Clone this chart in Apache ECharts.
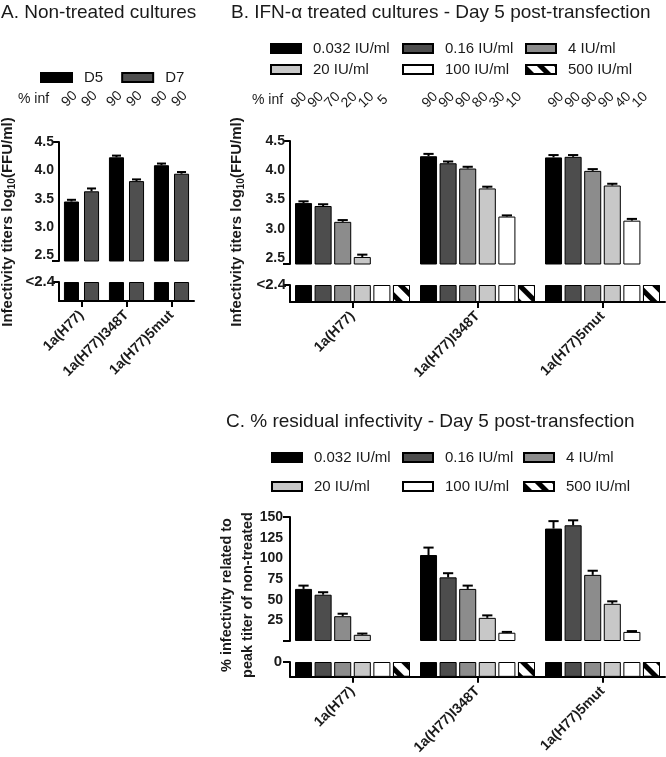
<!DOCTYPE html>
<html><head><meta charset="utf-8">
<script src="https://cdn.jsdelivr.net/npm/echarts@6/dist/echarts.min.js"></script>
<style>html,body{margin:0;padding:0;background:#fff}#c{width:666px;height:757px}</style>
</head><body><div id="c"></div>
<script>
// ---------- DATA ----------
const categories = ['1a(H77)', '1a(H77)I348T', '1a(H77)5mut'];

// Panel A: non-treated cultures, log10 titers
const daysA = ['D5', 'D7'];
const aD5 = [3.45, 4.23, 4.09];
const aD5Err = [0.03, 0.03, 0.03];
const aD7 = [3.63, 3.81, 3.94];
const aD7Err = [0.05, 0.03, 0.03];
const infA = [[90, 90], [90, 90], [90, 90]];

// Panel B: IFN-alpha treated, day 5, log10 titers (null = below detection, "<2.4")
const doses = ['0.032 IU/ml', '0.16 IU/ml', '4 IU/ml', '20 IU/ml', '100 IU/ml', '500 IU/ml'];
const b0032 = [3.44, 4.24, 4.22];
const b016 = [3.39, 4.12, 4.23];
const b4 = [3.12, 4.03, 3.99];
const b20 = [2.52, 3.69, 3.74];
const b100 = [null, 3.21, 3.14];
const b500 = [null, null, null];
const b0032Err = [0.03, 0.04, 0.04];
const b016Err = [0.03, 0.03, 0.03];
const b4Err = [0.03, 0.03, 0.03];
const b20Err = [0.04, 0.03, 0.03];
const b100Err = [0, 0.02, 0.03];
const b500Err = [0, 0, 0];
const infB = [[90, 90, 70, 20, 10, 5], [90, 90, 90, 80, 30, 10], [90, 90, 90, 90, 40, 10]];

// Panel C: % residual infectivity
const c0032 = [63, 104, 136];
const c016 = [56, 77, 140];
const c4 = [30, 63, 80];
const c20 = [7.5, 28, 45];
const c100 = [0, 10, 11];
const c500 = [0, 0, 0];
const c0032Err = [4, 9, 9];
const c016Err = [3, 5, 6];
const c4Err = [3, 4, 5];
const c20Err = [1.5, 3, 3];
const c100Err = [0, 1, 1];
const c500Err = [0, 0, 0];

const titerTicks = [2.5, 3.0, 3.5, 4.0, 4.5];
const pctTicks = [25, 50, 75, 100, 125, 150];

// ---------- STYLE ----------
const FONT = '"Liberation Sans", Arial, Helvetica, sans-serif';
const INK = '#1a1a1a';
const colorsA = ['#000000', '#4f4f4f'];
const doseColors = ['#000000', '#4d4d4d', '#8c8c8c', '#c8c8c8', '#ffffff', '#ffffff'];
const hatch = {color: '#000', dashArrayX: [1, 0], dashArrayY: [5, 7], rotation: Math.PI / 4, symbol: 'rect', symbolSize: 1};

const bVals = [b0032, b016, b4, b20, b100, b500];
const bErrs = [b0032Err, b016Err, b4Err, b20Err, b100Err, b500Err];
const cVals = [c0032, c016, c4, c20, c100, c500];
const cErrs = [c0032Err, c016Err, c4Err, c20Err, c100Err, c500Err];

const gapA = {cat: 0.22, bar: 0.33};
const gapB = {cat: 0.08, bar: 0.15};

const grids = [
  {left: 59, top: 142, width: 135, height: 119},   // A upper
  {left: 59, top: 282, width: 135, height: 19},    // A lower
  {left: 290, top: 141, width: 375, height: 123},  // B upper
  {left: 290, top: 285, width: 375, height: 17},   // B lower
  {left: 290, top: 517, width: 375, height: 124},  // C upper
  {left: 290, top: 662, width: 375, height: 16}    // C lower
];

const axLine = {show: true, lineStyle: {color: '#000', width: 2}};
const lblStyle = {color: INK, fontFamily: FONT, fontWeight: 'bold', fontSize: 14};

const xAxes = grids.map((g, i) => {
  const lower = i % 2 === 1;
  return {
    type: 'category', gridIndex: i, data: categories,
    show: lower,
    axisLine: axLine,
    axisTick: {show: true, alignWithLabel: true, length: 6, lineStyle: {color: '#000', width: 2}},
    axisLabel: Object.assign({rotate: 45, margin: 12, interval: 0}, lblStyle),
    splitLine: {show: false}
  };
});

function upperY(gi, min, max, ticks, fmt, margin) {
  return {
    type: 'value', gridIndex: gi, min: min, max: max,
    axisLine: axLine,
    axisTick: {show: true, length: 7, lineStyle: {color: '#000', width: 2}, customValues: [min, max]},
    axisLabel: Object.assign({customValues: ticks, formatter: fmt, margin: margin}, lblStyle),
    splitLine: {show: false}
  };
}
function lowerY(gi, label, margin) {
  return {
    type: 'value', gridIndex: gi, min: 0, max: 1,
    axisLine: axLine,
    axisTick: {show: true, length: 7, lineStyle: {color: '#000', width: 2}, customValues: [1]},
    axisLabel: Object.assign({customValues: [1], formatter: () => label, margin: margin}, lblStyle, {fontSize: 15}),
    splitLine: {show: false}
  };
}
const yAxes = [
  upperY(0, 2.4, 4.5, titerTicks, v => v.toFixed(1), 5),
  lowerY(1, '<2.4', 4),
  upperY(2, 2.4, 4.5, titerTicks, v => v.toFixed(1), 5),
  lowerY(3, '<2.4', 4),
  upperY(4, 0, 150, pctTicks, v => String(v), 7),
  lowerY(5, '0', 8)
];

const series = [];
function barStyle(color, decal) {
  const s = {color: color, borderColor: '#000', borderWidth: 1};
  if (decal) s.decal = decal;
  return s;
}
function addBars(name, ax, vals, color, decal, gap) {
  series.push({
    type: 'bar', name: name, xAxisIndex: ax, yAxisIndex: ax,
    data: vals, itemStyle: barStyle(color, decal),
    barGap: (gap.bar * 100) + '%', barCategoryGap: (gap.cat * 100) + '%',
    clip: true, silent: true
  });
}
function addErr(ax, vals, errs, idx, n, gap) {
  const data = [];
  vals.forEach((v, j) => { if (v != null && errs[j] > 0) data.push([j, v, errs[j]]); });
  series.push({
    type: 'custom', xAxisIndex: ax, yAxisIndex: ax, z: 5, silent: true,
    data: data,
    renderItem: function (params, api) {
      const j = api.value(0), v = api.value(1), e = api.value(2);
      const band = api.size([1, 0])[0];
      const usable = band * (1 - gap.cat);
      const bw = usable / (n + (n - 1) * gap.bar);
      const p0 = api.coord([j, v]);
      const cx = p0[0] - usable / 2 + idx * bw * (1 + gap.bar) + bw / 2;
      const y1 = api.coord([j, v + e])[1];
      const cap = bw * 0.3;
      return {type: 'group', children: [
        {type: 'line', shape: {x1: cx, y1: p0[1], x2: cx, y2: y1}, style: {stroke: '#000', lineWidth: 2}},
        {type: 'line', shape: {x1: cx - cap, y1: y1, x2: cx + cap, y2: y1}, style: {stroke: '#000', lineWidth: 2}}
      ]};
    }
  });
}

// Panel A
[aD5, aD7].forEach((vals, i) => {
  addBars(daysA[i], 0, vals, colorsA[i], null, gapA);
  addBars(daysA[i], 1, vals.map(() => 1), colorsA[i], null, gapA);
});
addErr(0, aD5, aD5Err, 0, 2, gapA);
addErr(0, aD7, aD7Err, 1, 2, gapA);

// Panel B
bVals.forEach((vals, i) => {
  const decal = i === 5 ? hatch : null;
  addBars(doses[i], 2, vals, doseColors[i], decal, gapB);
  addBars(doses[i], 3, vals.map(() => 1), doseColors[i], decal, gapB);
  addErr(2, vals, bErrs[i], i, 6, gapB);
});

// Panel C
cVals.forEach((vals, i) => {
  const decal = i === 5 ? hatch : null;
  addBars(doses[i], 4, vals.map(v => v > 0 ? v : null), doseColors[i], decal, gapB);
  addBars(doses[i], 5, vals.map(() => 1), doseColors[i], decal, gapB);
  addErr(4, vals, cErrs[i], i, 6, gapB);
});

// ---------- TEXT ----------
const titleStyle = {fontSize: 19, fontWeight: 'normal', color: INK, fontFamily: FONT};
const titles = [
  {text: 'A. Non-treated cultures', left: 1, top: 3, padding: 0, textStyle: titleStyle},
  {text: 'B. IFN-\u03b1 treated cultures - Day 5 post-transfection', left: 231, top: 3, padding: 0, textStyle: titleStyle},
  {text: 'C. % residual infectivity - Day 5 post-transfection', left: 226, top: 412, padding: 0, textStyle: titleStyle}
];

const legendText = {fontSize: 15, color: INK, fontFamily: FONT, padding: [0, 0, 0, 7], lineHeight: 12};
const legendBase = {padding: 0, icon: 'rect', itemWidth: 30, itemHeight: 9, selectedMode: false, textStyle: legendText};
const legends = [Object.assign({}, legendBase, {data: daysA, left: 40, top: 70, itemWidth: 31, itemGap: 18})];
const legCols = {B: [270, 402, 525], C: [271, 402, 523]};
const legRows = {B: [47, 68], C: [456, 485]};
['B', 'C'].forEach(p => {
  doses.forEach((d, i) => {
    legends.push(Object.assign({}, legendBase, {data: [d], left: legCols[p][i % 3], top: legRows[p][Math.floor(i / 3)] - 6}));
  });
});

const graphics = [];
const infFont = {fontSize: 14, fill: INK, fontFamily: FONT, align: 'center', verticalAlign: 'middle'};
function infLabel(x, y, txt, rot) {
  graphics.push({type: 'text', x: x, y: y, rotation: rot ? Math.PI / 4 : 0,
    style: Object.assign({text: txt}, infFont, rot ? {} : {align: 'left'})});
}
// Panel A row: labels over each bar position
infLabel(18, 99, '% inf', false);
const bandA = grids[0].width / categories.length;
const useA = bandA * (1 - gapA.cat);
const bwA = useA / (2 + gapA.bar);
infA.forEach((grp, j) => grp.forEach((v, k) => {
  const cx = grids[0].left + bandA * (j + 0.5) - useA / 2 + k * bwA * (1 + gapA.bar) + bwA / 2 - 2;
  infLabel(cx, 99, String(v), true);
}));
// Panel B row: compact row of labels
infLabel(252, 100, '% inf', false);
const infBStart = [299, 430, 556];
infB.forEach((grp, j) => grp.forEach((v, k) => {
  infLabel(infBStart[j] + k * 16.8, 100, String(v), true);
}));

// Axis titles (rotated)
const axTitleStyle = {fontSize: 15, fontWeight: 'bold', fill: INK, fontFamily: FONT, align: 'center', verticalAlign: 'middle',
  rich: {sub: {fontSize: 10, fontWeight: 'bold', fill: INK, fontFamily: FONT, padding: [8, 0, 0, 0]}}};
graphics.push({type: 'text', x: 8, y: 222, rotation: Math.PI / 2,
  style: Object.assign({text: 'Infectivity titers log{sub|10}(FFU/ml)'}, axTitleStyle)});
graphics.push({type: 'text', x: 237, y: 222, rotation: Math.PI / 2,
  style: Object.assign({text: 'Infectivity titers log{sub|10}(FFU/ml)'}, axTitleStyle)});
graphics.push({type: 'text', x: 237, y: 595, rotation: Math.PI / 2,
  style: Object.assign({text: '% infectivity related to\npeak titer of non-treated', lineHeight: 21}, axTitleStyle, {fontSize: 14.5})});

const chart = echarts.init(document.getElementById('c'), null, {renderer: 'canvas'});
chart.setOption({
  animation: false,
  backgroundColor: '#fff',
  title: titles,
  legend: legends,
  grid: grids,
  xAxis: xAxes,
  yAxis: yAxes,
  series: series,
  graphic: graphics
});
</script>
</body></html>
